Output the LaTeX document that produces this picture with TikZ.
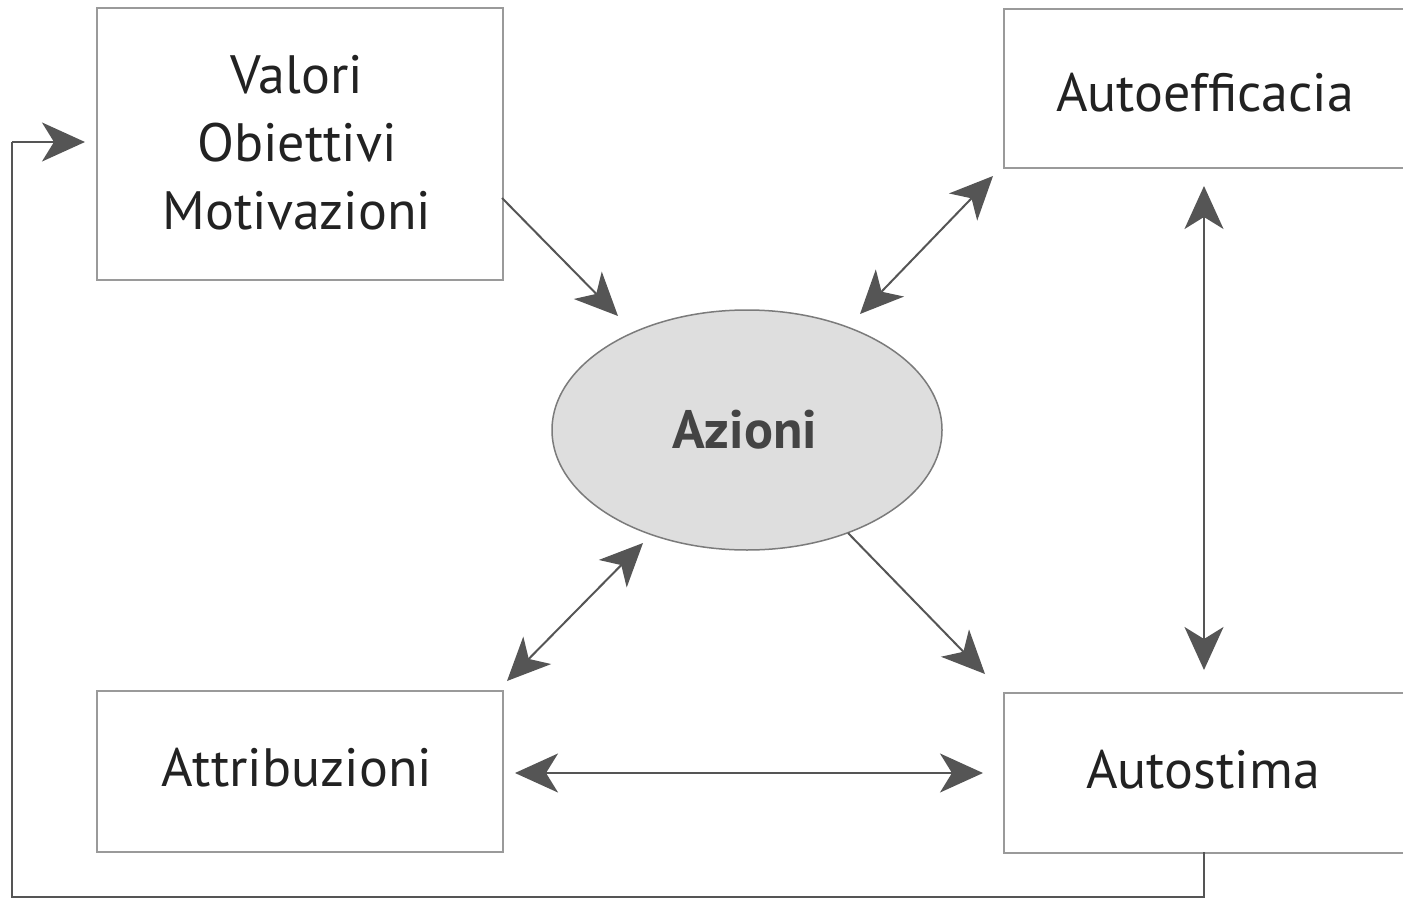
\documentclass[tikz,border=0pt]{standalone}
\usepackage{fontspec}
\setmainfont{PT Sans}
\usetikzlibrary{arrows.meta}
\definecolor{boxline}{HTML}{9A9A9A}
\definecolor{arrowc}{HTML}{555555}
\definecolor{ellfill}{HTML}{DEDEDE}
\definecolor{txt}{HTML}{222222}
\tikzset{
  boxnode/.style={draw=boxline, line width=2pt, minimum width=406pt, anchor=north west, inner sep=0pt},
  lbl/.style={text=txt, font=\fontsize{54}{68}\selectfont, align=center},
  conn/.style={draw=arrowc, line width=2pt, -{Stealth[length=43pt,width=39pt,inset=12pt]}},
  bconn/.style={draw=arrowc, line width=2pt, {Stealth[length=43pt,width=39pt,inset=12pt]}-{Stealth[length=43pt,width=39pt,inset=12pt]}},
  fb/.style={draw=arrowc, line width=2pt}
}
\begin{document}
\begin{tikzpicture}[x=1pt,y=-1pt]
\useasboundingbox (0,0) rectangle (1403,899);
% boxes
\node[boxnode, minimum height=272pt] (vbox) at (96,7) {};
\node[boxnode, minimum height=159pt] (aebox) at (1003,8) {};
\node[boxnode, minimum height=161pt] (atbox) at (96,690) {};
\node[boxnode, minimum height=160pt] (asbox) at (1003,692) {};
% texts
\node[lbl] (vtxt) at (297,143) {Valori\\Obiettivi\\Motivazioni};
\node[lbl] (aetxt) at (1205,93) {Autoefficacia};
\node[lbl] (attxt) at (297,768) {Attribuzioni};
\node[lbl] (astxt) at (1203,770) {Autostima};
% ellipse
\draw[draw=boxline!80!black, line width=1.5pt, fill=ellfill] (747,430) ellipse [x radius=195, y radius=120];
\node[text=arrowc!80!black, font=\fontsize{54}{60}\bfseries\selectfont] (az) at (745,430) {Azioni};
% coordinates
\coordinate (v1) at (502,198);
\coordinate (v2) at (618,316);
\coordinate (ae1) at (993,176);
\coordinate (ae2) at (860,314);
\coordinate (vt1) at (1204,186);
\coordinate (vt2) at (1204,670);
\coordinate (at1) at (643,543);
\coordinate (at2) at (507,681);
\coordinate (as1) at (848,533);
\coordinate (as2) at (985,674);
\coordinate (h1) at (515,773);
\coordinate (h2) at (983,773);
\coordinate (f0) at (1204,852);
\coordinate (f1) at (1204,897);
\coordinate (f2) at (12,897);
\coordinate (f3) at (12,142);
\coordinate (f4) at (85,142);
% connectors
\draw[conn] (v1) -- (v2);
\draw[bconn] (ae1) -- (ae2);
\draw[bconn] (vt1) -- (vt2);
\draw[bconn] (at1) -- (at2);
\draw[conn] (as1) -- (as2);
\draw[bconn] (h1) -- (h2);
\draw[fb] (f0) -- (f1) -- (f2) -- (f3);
\draw[conn] (f3) -- (f4);
\end{tikzpicture}
\end{document}
